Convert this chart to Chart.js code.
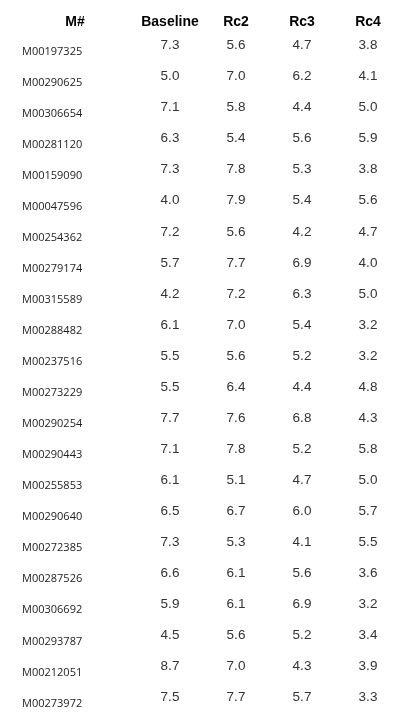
<!DOCTYPE html>
<html><head><meta charset="utf-8">
<script src="https://cdn.jsdelivr.net/npm/chart.js@4"></script>
<style>html,body{margin:0;padding:0;background:#fff}</style>
</head><body>
<canvas id="c" width="415" height="723"></canvas>
<script>
const columns = ['Baseline','Rc2','Rc3','Rc4'];
const ids = ['M00197325','M00290625','M00306654','M00281120','M00159090','M00047596','M00254362','M00279174','M00315589','M00288482','M00237516','M00273229','M00290254','M00290443','M00255853','M00290640','M00272385','M00287526','M00306692','M00293787','M00212051','M00273972'];
const baseline = [7.3,5.0,7.1,6.3,7.3,4.0,7.2,5.7,4.2,6.1,5.5,5.5,7.7,7.1,6.1,6.5,7.3,6.6,5.9,4.5,8.7,7.5];
const rc2 = [5.6,7.0,5.8,5.4,7.8,7.9,5.6,7.7,7.2,7.0,5.6,6.4,7.6,7.8,5.1,6.7,5.3,6.1,6.1,5.6,7.0,7.7];
const rc3 = [4.7,6.2,4.4,5.6,5.3,5.4,4.2,6.9,6.3,5.4,5.2,4.4,6.8,5.2,4.7,6.0,4.1,5.6,6.9,5.2,4.3,5.7];
const rc4 = [3.8,4.1,5.0,5.9,3.8,5.6,4.7,4.0,5.0,3.2,3.2,4.8,4.3,5.8,5.0,5.7,5.5,3.6,3.2,3.4,3.9,3.3];
const series = [baseline, rc2, rc3, rc4];

const pts = [];
series.forEach((arr, ci) => arr.forEach((v, ri) => pts.push({x: columns[ci], y: ids[ri], v})));

const tablePlugin = {
  id: 'table',
  afterDatasetsDraw(chart) {
    const ctx = chart.ctx, xs = chart.scales.x, ys = chart.scales.y;
    ctx.save();
    ctx.textBaseline = 'middle';
    ctx.fillStyle = '#000';
    ctx.font = 'bold 14px "Liberation Sans", Arial, sans-serif';
    ctx.textAlign = 'center';
    ctx.fillText('M#', 75, 22);
    columns.forEach(c => ctx.fillText(c, xs.getPixelForValue(columns.indexOf(c)), 22));
    ctx.font = '11px "Open Sans", sans-serif';
    ctx.textAlign = 'left';
    ctx.fillStyle = '#222';
    ids.forEach((id, i) => ctx.fillText(id, 22, ys.getPixelForValue(i) + 6));
    ctx.font = '13.5px "Liberation Sans", Arial, sans-serif';
    ctx.textAlign = 'center';
    ctx.fillStyle = '#333';
    pts.forEach(p => ctx.fillText(p.v.toFixed(1), xs.getPixelForValue(columns.indexOf(p.x)), ys.getPixelForValue(ids.indexOf(p.y))));
    ctx.restore();
  }
};

new Chart(document.getElementById('c'), {
  type: 'scatter',
  data: { datasets: [{ data: pts, pointRadius: 0, pointHoverRadius: 0 }] },
  options: {
    responsive: false, animation: false,
    layout: { padding: { left: 137, right: 14, top: 30, bottom: 10 } },
    plugins: { legend: { display: false }, tooltip: { enabled: false } },
    scales: {
      x: { type: 'category', labels: columns, offset: true, display: false },
      y: { type: 'category', labels: ids, offset: true, display: false }
    }
  },
  plugins: [tablePlugin]
});
</script>
</body></html>
